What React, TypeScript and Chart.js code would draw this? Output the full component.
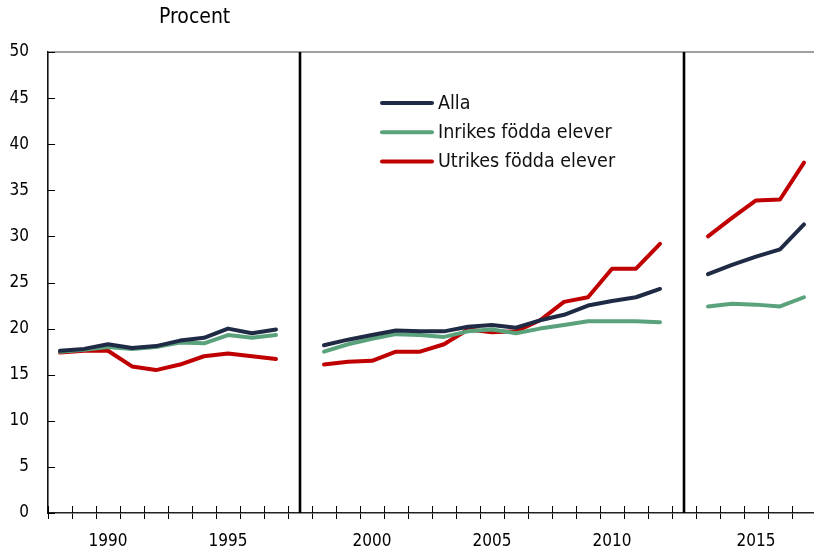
import React, { useEffect, useRef } from "react";
import { Chart, registerables } from "chart.js";

Chart.register(...registerables);

const FONT = '"Liberation Sans Narrow", "DejaVu Sans Condensed", "Arial Narrow", sans-serif';

// Categories: blank entries mark the series breaks
const categories = [
  "1988", "1989", "1990", "1991", "1992", "1993", "1994", "1995", "1996", "1997",
  "",
  "1998", "1999", "2000", "2001", "2002", "2003", "2004", "2005", "2006", "2007",
  "2008", "2009", "2010", "2011", "2012",
  "",
  "2013", "2014", "2015", "2016", "2017",
];

const alla = [
  17.6, 17.8, 18.3, 17.9, 18.1, 18.7, 19.0, 20.0, 19.5, 19.9,
  null,
  18.2, 18.8, 19.3, 19.8, 19.7, 19.7, 20.2, 20.4, 20.1, 20.9,
  21.5, 22.5, 23.0, 23.4, 24.3,
  null,
  25.9, 26.9, 27.8, 28.6, 31.3,
];

const inrikes = [
  17.5, 17.7, 18.0, 17.8, 18.0, 18.5, 18.4, 19.3, 19.0, 19.3,
  null,
  17.5, 18.3, 18.9, 19.4, 19.3, 19.1, 19.7, 19.9, 19.5, 20.0,
  20.4, 20.8, 20.8, 20.8, 20.7,
  null,
  22.4, 22.7, 22.6, 22.4, 23.4,
];

const utrikes = [
  17.4, 17.6, 17.6, 15.9, 15.5, 16.1, 17.0, 17.3, 17.0, 16.7,
  null,
  16.1, 16.4, 16.5, 17.5, 17.5, 18.3, 19.9, 19.6, 19.7, 20.9,
  22.9, 23.4, 26.5, 26.5, 29.2,
  null,
  30.0, 32.0, 33.9, 34.0, 38.0,
];

const seriesLabels = ["Alla", "Inrikes födda elever", "Utrikes födda elever"];
const seriesColors = ["#1f2b44", "#5aa27c", "#c00000"];
const yTicks = [0, 5, 10, 15, 20, 25, 30, 35, 40, 45, 50];

const decorPlugin = {
  id: "decor",
  afterDatasetsDraw(chart: any) {
    const { ctx, chartArea } = chart;
    const x = chart.scales.x;
    const y = chart.scales.y;
    const { left, right, top, bottom } = chartArea;
    ctx.save();
    // top frame line
    ctx.strokeStyle = "#808080";
    ctx.lineWidth = 1.5;
    ctx.beginPath();
    ctx.moveTo(left, top);
    ctx.lineTo(right, top);
    ctx.stroke();
    // y inner ticks
    ctx.strokeStyle = "#000";
    ctx.lineWidth = 1;
    yTicks.forEach((v) => {
      const py = Math.round(y.getPixelForValue(v)) + 0.5;
      ctx.beginPath();
      ctx.moveTo(left, py);
      ctx.lineTo(left + 7, py);
      ctx.stroke();
    });
    // x inner ticks (above axis)
    const w = x.getPixelForValue(1) - x.getPixelForValue(0);
    for (let i = 0; i <= categories.length; i++) {
      const px = Math.round(x.getPixelForValue(0) - w / 2 + i * w) + 0.5;
      ctx.beginPath();
      ctx.moveTo(px, bottom - 7);
      ctx.lineTo(px, bottom);
      ctx.stroke();
    }
    // break lines
    ctx.strokeStyle = "#000";
    ctx.lineWidth = 2.6;
    categories.forEach((c, i) => {
      if (c === "") {
        const px = x.getPixelForValue(i);
        ctx.beginPath();
        ctx.moveTo(px, top);
        ctx.lineTo(px, bottom);
        ctx.stroke();
      }
    });
    // title
    ctx.fillStyle = "#000";
    ctx.font = `21px ${FONT}`;
    ctx.textAlign = "left";
    ctx.textBaseline = "middle";
    ctx.fillText("Procent", 159, 18);
    // legend
    ctx.font = `19.5px ${FONT}`;
    chart.data.datasets.forEach((ds: any, i: number) => {
      const ly = 103 + i * 29.2;
      ctx.strokeStyle = ds.borderColor;
      ctx.lineWidth = 4;
      ctx.lineCap = "round";
      ctx.beginPath();
      ctx.moveTo(382, ly);
      ctx.lineTo(432, ly);
      ctx.stroke();
      ctx.fillStyle = "#111";
      ctx.fillText(ds.label, 438, ly + 1);
    });
    ctx.restore();
  },
};

export default function App() {
  const ref = useRef<HTMLCanvasElement>(null);
  useEffect(() => {
    if (!ref.current) return;
    const mk = (label: string, data: (number | null)[], color: string) => ({
      label,
      data,
      borderColor: color,
      backgroundColor: color,
      borderWidth: 4,
      pointRadius: 0,
      tension: 0,
      spanGaps: false,
      borderCapStyle: "round",
      borderJoinStyle: "round",
    });
    const chart = new Chart(ref.current, {
      type: "line",
      data: {
        labels: categories,
        datasets: [
          mk(seriesLabels[0], alla, seriesColors[0]),
          mk(seriesLabels[1], inrikes, seriesColors[1]),
          mk(seriesLabels[2], utrikes, seriesColors[2]),
        ] as any,
      },
      options: {
        responsive: false,
        animation: false,
        layout: { padding: { top: 52, right: 4, left: 0, bottom: 0 } },
        plugins: {
          legend: { display: false },
          tooltip: { enabled: false },
          title: { display: false },
        },
        scales: {
          x: {
            type: "category",
            offset: true,
            grid: {
              display: true,
              offset: true,
              drawOnChartArea: false,
              drawTicks: true,
              tickLength: 6,
              color: "#000",
              lineWidth: 1,
            },
            border: { display: true, color: "#222", width: 1.6 },
            ticks: {
              autoSkip: false,
              maxRotation: 0,
              padding: 12,
              color: "#000",
              font: { family: FONT, size: 17 },
              callback: function (_v: any, i: number) {
                const c = categories[i];
                return c !== "" && Number(c) % 5 === 0 ? c : "";
              },
            },
            afterFit: (s: any) => {
              s.height = 35;
            },
          },
          y: {
            min: 0,
            max: 50,
            grid: { display: false, drawTicks: false },
            border: { display: true, color: "#111", width: 1.6 },
            ticks: {
              stepSize: 5,
              padding: 19,
              color: "#000",
              font: { family: FONT, size: 17 },
            },
            afterFit: (s: any) => {
              s.width = 48;
            },
          },
        },
      },
      plugins: [decorPlugin],
    });
    return () => chart.destroy();
  }, []);
  return (
    <div
      style={{
        position: "absolute",
        left: 0,
        top: 0,
        width: 814,
        height: 548,
        overflow: "hidden",
        background: "#fff",
      }}
    >
      <canvas ref={ref} width={820} height={548} style={{ display: "block" }} />
    </div>
  );
}
